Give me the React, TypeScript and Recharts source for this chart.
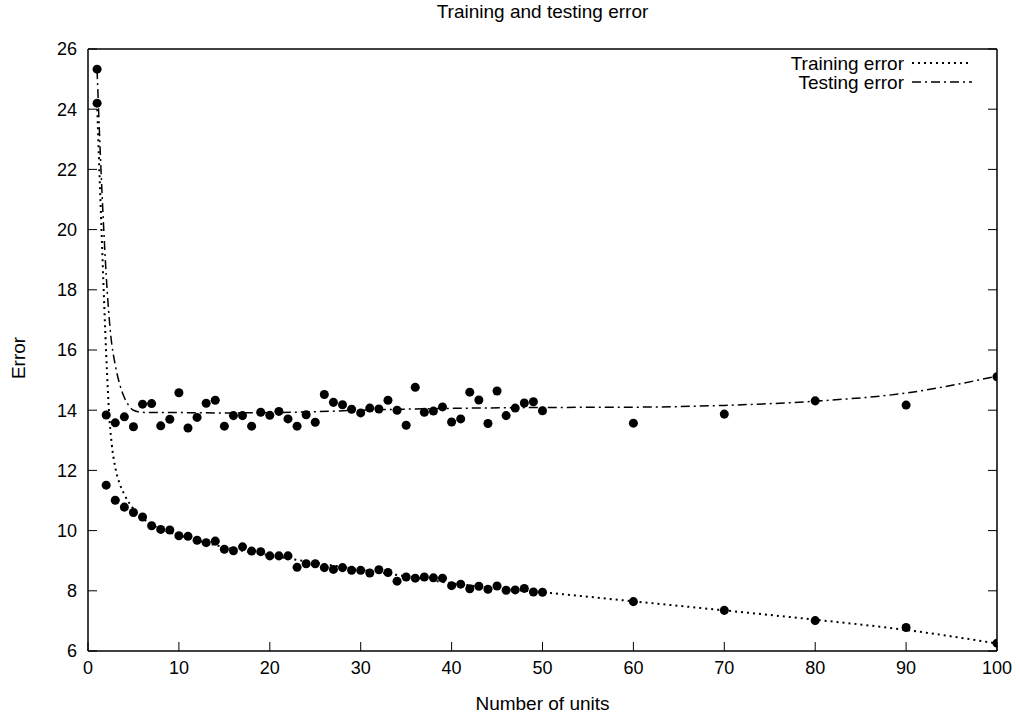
import { ComposedChart, Line, Scatter, XAxis, YAxis } from 'recharts'

// measured error per number of units (dots)
const units = [
  1, 2, 3, 4, 5, 6, 7, 8, 9, 10, 11, 12, 13, 14, 15, 16, 17, 18, 19, 20, 21, 22, 23, 24, 25,
  26, 27, 28, 29, 30, 31, 32, 33, 34, 35, 36, 37, 38, 39, 40, 41, 42, 43, 44, 45, 46, 47, 48, 49, 50,
  60, 70, 80, 90, 100,
]
const trainingErr = [
  24.2, 11.51, 11.01, 10.78, 10.6, 10.45, 10.16, 10.04, 10.02, 9.83, 9.81, 9.68, 9.6, 9.65, 9.38,
  9.33, 9.46, 9.32, 9.3, 9.16, 9.16, 9.16, 8.78, 8.9, 8.9, 8.77, 8.71, 8.77, 8.68, 8.68, 8.59, 8.7,
  8.61, 8.32, 8.46, 8.42, 8.46, 8.43, 8.42, 8.17, 8.22, 8.07, 8.15, 8.05, 8.16, 8.02, 8.03, 8.08,
  7.96, 7.95, 7.64, 7.35, 7.01, 6.78, 6.26,
]
const testingErr = [
  25.33, 13.84, 13.58, 13.78, 13.45, 14.2, 14.22, 13.48, 13.7, 14.58, 13.41, 13.76, 14.23, 14.33,
  13.47, 13.82, 13.82, 13.47, 13.93, 13.83, 13.96, 13.71, 13.47, 13.85, 13.6, 14.52, 14.26, 14.18,
  14.03, 13.91, 14.07, 14.04, 14.33, 14.0, 13.5, 14.76, 13.93, 13.97, 14.11, 13.61, 13.71, 14.6,
  14.34, 13.56, 14.64, 13.82, 14.07, 14.24, 14.28, 13.98, 13.57, 13.87, 14.31, 14.17, 15.11,
]

// fitted curves
const trainFitX = [1, 1.2, 1.45, 1.7, 1.9, 2.1, 2.3, 2.6, 3, 3.5, 4, 5, 6, 8, 10, 15, 20, 25, 30, 35, 40, 45, 50, 60, 70, 80, 90, 100]
const trainFitY = [24.2, 22.4, 20.3, 18.2, 16.6, 15.2, 14.0, 12.9, 12.1, 11.55, 11.2, 10.72, 10.42, 10.05, 9.85, 9.45, 9.18, 8.93, 8.7, 8.48, 8.25, 8.08, 7.95, 7.65, 7.35, 7.04, 6.7, 6.25]
const testFitX = [1, 1.25, 1.5, 1.75, 2, 2.5, 3, 3.5, 4, 4.5, 5, 6, 8, 10, 15, 20, 25, 30, 40, 50, 60, 70, 80, 90, 100]
const testFitY = [25.3, 23.3, 21.5, 19.9, 18.5, 16.5, 15.5, 14.85, 14.42, 14.15, 14.0, 13.93, 13.92, 13.92, 13.91, 13.92, 13.95, 14.0, 14.06, 14.09, 14.1, 14.16, 14.3, 14.57, 15.13]

const xTicks = [0, 10, 20, 30, 40, 50, 60, 70, 80, 90, 100]
const yTicks = [6, 8, 10, 12, 14, 16, 18, 20, 22, 24, 26]

const zip = (xs: number[], ys: number[]) => xs.map((x, i) => ({ x, y: ys[i] }))

const trainPts = zip(units, trainingErr)
const testPts = zip(units, testingErr)
const trainFit = zip(trainFitX, trainFitY)
const testFit = zip(testFitX, testFitY)

const FONT = '"Liberation Sans", Arial, Helvetica, sans-serif'
const TEXT_SIZE = 19
const tickStyle = { fill: '#000', fontSize: 18, fontFamily: FONT }
const axisLine = { stroke: '#000', strokeWidth: 1.5 }
const tickLine = { stroke: '#000', strokeWidth: 1 }
const noLabel = () => <g />

const DOTTED = '2 4'
const DASHDOT = '9 4 2 4'

export default function App() {
  return (
    <div style={{ position: 'absolute', left: 0, top: 0, width: 1020, height: 716, background: '#fff', fontFamily: FONT }}>
      <div style={{ position: 'absolute', left: 88, width: 909, top: 1, textAlign: 'center', fontSize: TEXT_SIZE, lineHeight: '22px' }}>
        Training and testing error
      </div>
      <ComposedChart width={1020} height={716} margin={{ top: 48, right: 22, bottom: 1, left: 0 }}>
        <XAxis
          dataKey="x"
          type="number"
          domain={[0, 100]}
          ticks={xTicks}
          allowDataOverflow
          height={64}
          tickSize={-9}
          tickMargin={19}
          tick={tickStyle}
          axisLine={axisLine}
          tickLine={tickLine}
          label={{ value: 'Number of units', position: 'insideBottom', offset: 5, style: { fill: '#000', fontSize: TEXT_SIZE, fontFamily: FONT } }}
        />
        <XAxis
          xAxisId="top"
          orientation="top"
          type="number"
          domain={[0, 100]}
          ticks={xTicks}
          allowDataOverflow
          height={1}
          tickSize={-9}
          tick={noLabel}
          axisLine={axisLine}
          tickLine={tickLine}
        />
        <YAxis
          dataKey="y"
          type="number"
          domain={[6, 26]}
          ticks={yTicks}
          allowDataOverflow
          width={88}
          tickSize={-9}
          tickMargin={20}
          tick={tickStyle}
          axisLine={axisLine}
          tickLine={tickLine}
          label={{
            value: 'Error',
            content: () => (
              <text
                x={18}
                y={358}
                transform="rotate(-90 18 358)"
                textAnchor="middle"
                dominantBaseline="central"
                fontSize={TEXT_SIZE}
                fontFamily={FONT}
                fill="#000"
              >
                Error
              </text>
            ),
          }}
        />
        <YAxis
          yAxisId="right"
          orientation="right"
          type="number"
          domain={[6, 26]}
          ticks={yTicks}
          allowDataOverflow
          width={1}
          tickSize={-9}
          tick={noLabel}
          axisLine={axisLine}
          tickLine={tickLine}
        />
        <Line
          data={trainFit}
          dataKey="y"
          type="monotone"
          stroke="#000"
          strokeWidth={2}
          strokeDasharray={DOTTED}
          dot={false}
          activeDot={false}
          isAnimationActive={false}
        />
        <Line
          data={testFit}
          dataKey="y"
          type="monotone"
          stroke="#000"
          strokeWidth={1.5}
          strokeDasharray={DASHDOT}
          dot={false}
          activeDot={false}
          isAnimationActive={false}
        />
        <Scatter data={trainPts} dataKey="y" fill="#000" isAnimationActive={false} />
        <Scatter data={testPts} dataKey="y" fill="#000" isAnimationActive={false} />
      </ComposedChart>
      {/* legend, top right inside the frame */}
      <svg style={{ position: 'absolute', left: 700, top: 52 }} width={290} height={42}>
        <text x={204} y={11} dy="0.35em" textAnchor="end" fontSize={TEXT_SIZE} fontFamily={FONT} fill="#000">
          Training error
        </text>
        <line x1={212} x2={272} y1={11} y2={11} stroke="#000" strokeWidth={2} strokeDasharray={DOTTED} />
        <text x={204} y={30} dy="0.35em" textAnchor="end" fontSize={TEXT_SIZE} fontFamily={FONT} fill="#000">
          Testing error
        </text>
        <line x1={212} x2={272} y1={30} y2={30} stroke="#000" strokeWidth={1.5} strokeDasharray={DASHDOT} />
      </svg>
    </div>
  )
}
